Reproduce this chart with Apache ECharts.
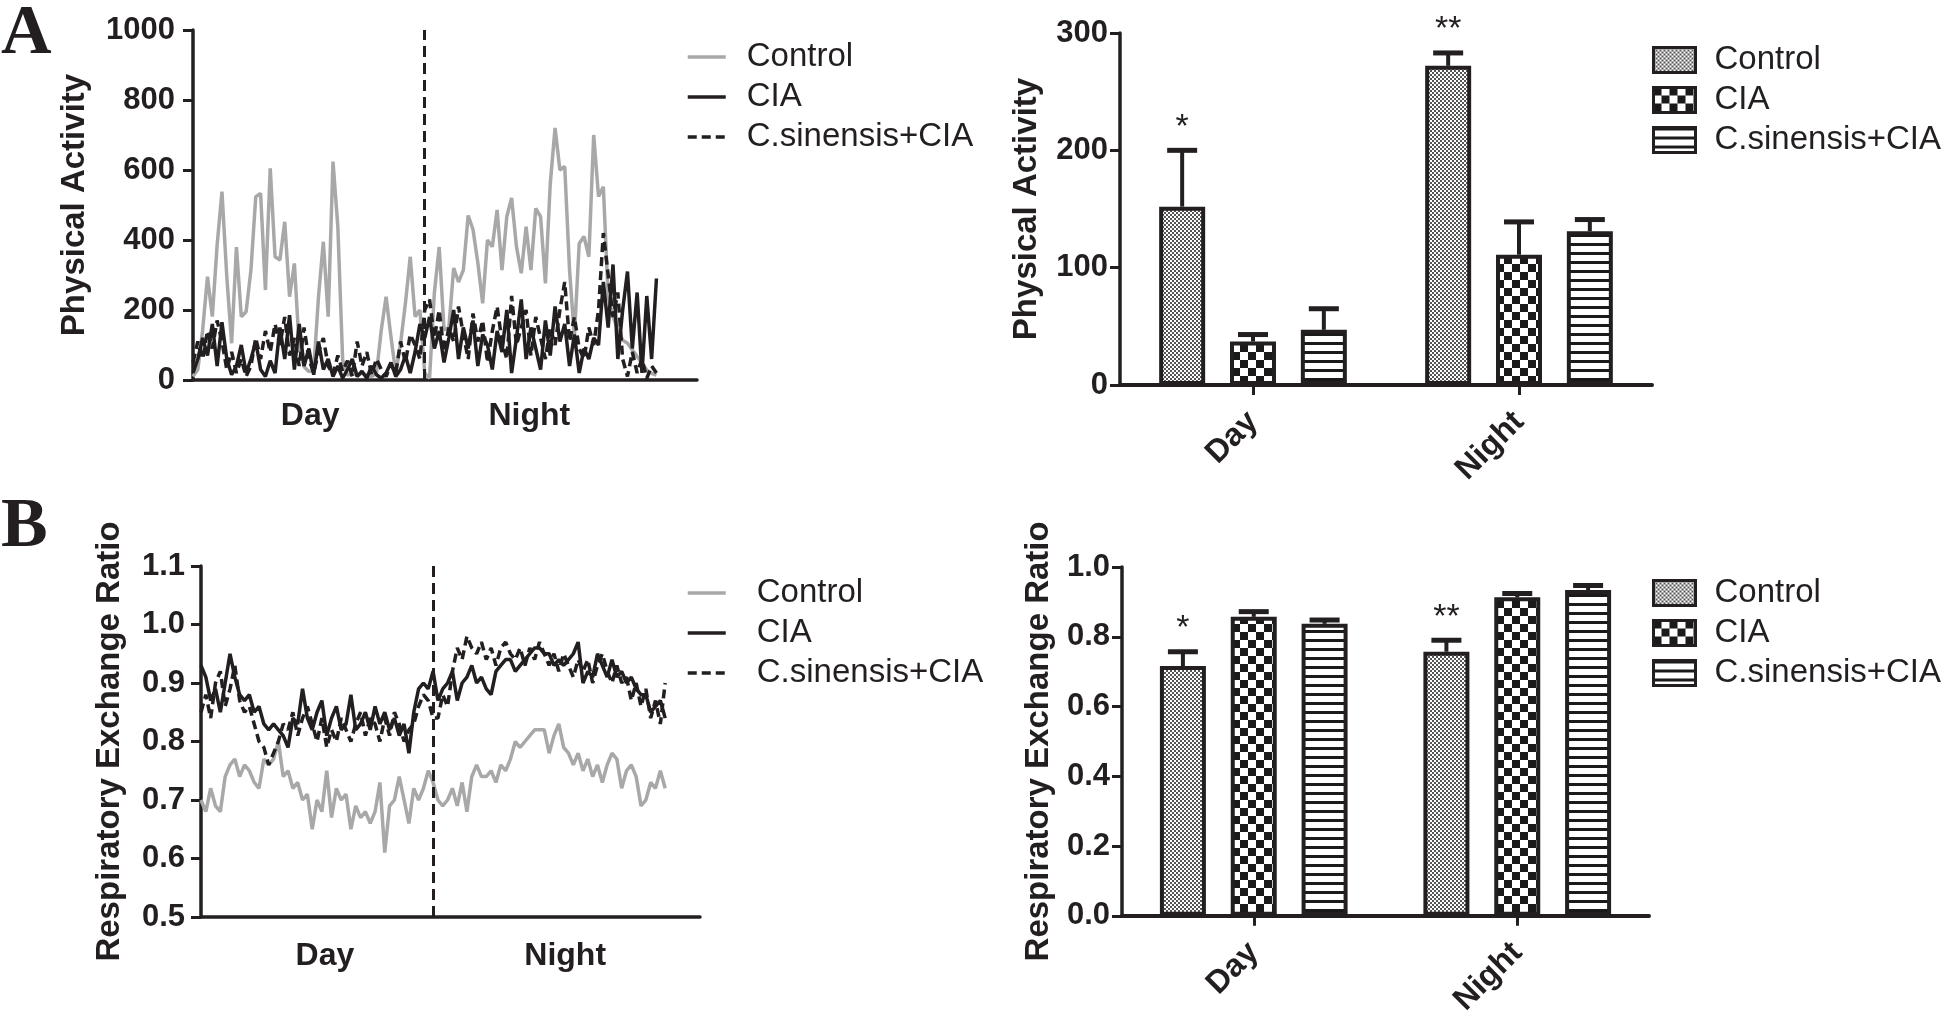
<!DOCTYPE html>
<html><head><meta charset="utf-8">
<script src="https://cdn.jsdelivr.net/npm/echarts@6/dist/echarts.min.js"></script>
<style>html,body{margin:0;padding:0;background:#fff}#c{width:1946px;height:1019px}</style>
</head><body><div id="c"></div>
<script>
// ---------------- DATA ----------------
const seriesNames = ['Control', 'CIA', 'C.sinensis+CIA'];
const dayNight = ['Day', 'Night'];
const panelLetters = ['A', 'B'];
const stepHours = 0.25; // sampling step of the time courses (hours)

// Physical activity time course (0-24 h, every 15 min)
const actControl = [10,30,143,295,181,386,538,295,105,380,181,195,314,524,533,257,605,352,343,452,238,333,95,38,24,29,238,395,181,624,438,57,14,19,14,19,14,10,19,143,238,124,19,105,219,352,181,200,20,
  5,250,380,143,150,320,280,314,470,430,335,219,400,381,486,314,467,520,381,305,438,314,490,467,276,560,720,600,610,314,124,390,410,352,700,524,552,238,181,143,114,105,86,67,48,29,19,14];
const actCIA = [20,60,120,70,160,40,165,60,15,40,100,20,60,110,30,10,55,20,150,60,185,30,160,40,90,15,110,30,60,10,40,5,30,60,10,25,5,40,15,5,20,50,10,30,70,20,80,160,120,
  180,90,140,50,120,200,60,150,90,170,40,130,100,30,140,80,200,20,120,230,60,150,90,30,170,70,210,110,160,40,130,20,90,60,120,100,280,150,330,60,200,310,90,250,20,240,60,290];
const actCS = [50,110,60,140,90,170,110,30,80,20,60,10,40,120,60,140,80,160,100,180,70,120,40,150,60,20,80,120,40,15,70,25,55,10,110,40,80,15,60,30,10,45,20,110,50,130,100,60,200,
  230,120,200,80,150,110,210,130,60,190,110,170,50,140,210,110,60,240,100,150,200,70,180,120,60,150,100,200,280,110,180,90,60,150,100,200,420,300,180,250,60,10,80,20,60,5,40,20];

// Respiratory exchange ratio time course
const rerControl = [0.70,0.68,0.72,0.69,0.68,0.74,0.76,0.77,0.74,0.76,0.75,0.73,0.72,0.77,0.76,0.77,0.80,0.74,0.75,0.72,0.73,0.70,0.71,0.65,0.70,0.68,0.75,0.67,0.72,0.70,0.71,0.65,0.69,0.67,0.68,0.66,0.68,0.73,0.61,0.69,0.70,0.74,0.70,0.66,0.72,0.70,0.72,0.75,0.73,
  0.70,0.69,0.70,0.72,0.69,0.73,0.68,0.74,0.76,0.74,0.74,0.75,0.73,0.76,0.75,0.77,0.80,0.79,0.80,0.81,0.82,0.82,0.82,0.78,0.81,0.83,0.79,0.78,0.76,0.78,0.75,0.77,0.74,0.76,0.73,0.76,0.78,0.77,0.72,0.75,0.76,0.74,0.69,0.70,0.73,0.72,0.75,0.72];
const rerCIA = [0.93,0.91,0.87,0.89,0.85,0.90,0.95,0.91,0.88,0.87,0.88,0.85,0.86,0.83,0.82,0.83,0.82,0.81,0.79,0.84,0.83,0.89,0.84,0.82,0.85,0.87,0.81,0.84,0.86,0.82,0.83,0.88,0.82,0.83,0.85,0.82,0.86,0.83,0.85,0.82,0.84,0.81,0.83,0.78,0.85,0.89,0.90,0.89,0.92,
  0.87,0.89,0.90,0.92,0.87,0.90,0.91,0.93,0.90,0.91,0.89,0.88,0.92,0.93,0.94,0.94,0.92,0.93,0.94,0.95,0.96,0.96,0.95,0.95,0.93,0.94,0.93,0.94,0.95,0.97,0.90,0.92,0.91,0.95,0.93,0.91,0.94,0.91,0.92,0.90,0.91,0.89,0.88,0.88,0.85,0.86,0.87,0.84];
const rerCS = [0.85,0.88,0.84,0.90,0.92,0.86,0.89,0.93,0.87,0.85,0.86,0.83,0.80,0.79,0.76,0.78,0.80,0.83,0.82,0.85,0.81,0.84,0.86,0.83,0.80,0.84,0.79,0.82,0.80,0.84,0.82,0.80,0.83,0.85,0.81,0.84,0.83,0.80,0.84,0.81,0.85,0.83,0.80,0.82,0.83,0.86,0.88,0.87,0.84,
  0.84,0.88,0.86,0.92,0.96,0.94,0.98,0.96,0.95,0.97,0.94,0.96,0.93,0.96,0.97,0.95,0.94,0.96,0.93,0.96,0.94,0.97,0.95,0.93,0.95,0.92,0.95,0.93,0.91,0.94,0.92,0.94,0.90,0.93,0.95,0.92,0.90,0.93,0.90,0.91,0.87,0.90,0.86,0.89,0.84,0.87,0.83,0.90];

// Bar chart means and error (SEM) - [Day, Night]
const actMeanControl = [152, 272], actErrControl = [48, 11];
const actMeanCIA = [37, 111],      actErrCIA = [6, 28];
const actMeanCS = [47, 131],       actErrCS = [18, 10];
const rerMeanControl = [0.716, 0.757], rerErrControl = [0.041, 0.033];
const rerMeanCIA = [0.857, 0.913],     rerErrCIA = [0.015, 0.011];
const rerMeanCS = [0.837, 0.934],      rerErrCS = [0.011, 0.013];
const starsControl = ['*', '**'];
const starsNone = ['', ''];

// -------------- STYLE ---------------
const INK = '#231f20';
const GRAY = '#a8a8a8';
const FF = '"Liberation Sans", Arial, Helvetica, sans-serif';
const BAR_W = 46, BAR_GAP = 0.54;

function makePattern(kind) {
  const c = document.createElement('canvas');
  let ctx;
  if (kind === 'fine') {
    c.width = 4; c.height = 4; ctx = c.getContext('2d');
    ctx.fillStyle = '#fff'; ctx.fillRect(0, 0, 4, 4);
    ctx.fillStyle = '#555'; ctx.fillRect(0, 0, 2, 2); ctx.fillRect(2, 2, 2, 2);
  } else if (kind === 'checker') {
    c.width = 16; c.height = 16; ctx = c.getContext('2d');
    ctx.fillStyle = '#fff'; ctx.fillRect(0, 0, 16, 16);
    ctx.fillStyle = '#1a1a1a'; ctx.fillRect(0, 0, 8, 8); ctx.fillRect(8, 8, 8, 8);
  } else {
    c.width = 8; c.height = 9; ctx = c.getContext('2d');
    ctx.fillStyle = '#fff'; ctx.fillRect(0, 0, 8, 9);
    ctx.fillStyle = '#1a1a1a'; ctx.fillRect(0, 0, 8, 3);
  }
  return { image: c, repeat: 'repeat' };
}
const patterns = [makePattern('fine'), makePattern('checker'), makePattern('hlines')];

const toXY = arr => arr.map((v, i) => [i * stepHours, v]);

const tickLabel = { fontSize: 31, fontWeight: 'bold', color: INK, fontFamily: FF };
const nameStyle = { fontSize: 33, fontWeight: 'bold', color: INK, fontFamily: FF };
const axLine = { show: true, onZero: false, lineStyle: { color: INK, width: 3.5 } };
const yTick = { show: true, length: 10, lineStyle: { color: INK, width: 3 } };

function lineX(grid, max, dayAt, nightAt, margin) {
  return {
    gridIndex: grid, type: 'value', min: 0, max: max,
    axisLine: axLine, axisTick: { show: false }, splitLine: { show: false },
    axisLabel: Object.assign({ customValues: [dayAt, nightAt], margin: margin, fontSize: 32,
      formatter: v => (v < 12 ? dayNight[0] : dayNight[1]) }, { fontWeight: 'bold', color: INK, fontFamily: FF })
  };
}
function yAx(grid, min, max, interval, name, nameGap, margin, digits) {
  return {
    gridIndex: grid, type: 'value', min: min, max: max, interval: interval,
    axisLine: axLine, axisTick: yTick, splitLine: { show: false },
    axisLabel: Object.assign({ margin: margin, formatter: v => v.toFixed(digits) }, tickLabel),
    name: name, nameLocation: 'middle', nameGap: nameGap, nameTextStyle: nameStyle
  };
}
function catX(grid, margin) {
  return {
    gridIndex: grid, type: 'category', data: dayNight,
    axisLine: { show: true, lineStyle: { color: INK, width: 4 } },
    axisTick: { show: true, alignWithLabel: true, length: 10, lineStyle: { color: INK, width: 3 } },
    axisLabel: { rotate: 45, margin: margin, fontSize: 32, fontWeight: 'bold', color: INK, fontFamily: FF },
    splitLine: { show: false }
  };
}

function lineSeries(name, data, xi, color, dashed, withMark) {
  const s = {
    type: 'line', name: name, xAxisIndex: xi, yAxisIndex: xi, data: data,
    symbol: 'none', showSymbol: false, smooth: false, silent: true,
    lineStyle: { color: color, width: 3.5, type: dashed ? [9, 5] : 'solid' },
    itemStyle: { color: color }, z: 2
  };
  if (withMark) {
    s.markLine = {
      silent: true, symbol: 'none', label: { show: false },
      lineStyle: { color: INK, width: 3, type: [11, 6] },
      data: [{ xAxis: 12 }]
    };
  }
  return s;
}

function barSeries(k, mean, xi) {
  return {
    type: 'bar', name: seriesNames[k] + ' ', xAxisIndex: xi, yAxisIndex: xi, data: mean,
    barWidth: BAR_W, barGap: (BAR_GAP * 100) + '%', silent: true,
    itemStyle: { color: patterns[k], borderColor: INK, borderWidth: 4 },
    emphasis: { disabled: true }
  };
}

function errSeries(k, mean, err, stars, xi) {
  return {
    type: 'custom', name: 'err' + xi + '_' + k, xAxisIndex: xi, yAxisIndex: xi, silent: true, z: 5,
    data: mean.map((m, i) => [i, m, err[i]]),
    renderItem: function (params, api) {
      const ci = api.value(0), m = api.value(1), e = api.value(2);
      const base = api.coord([ci, m]);
      const top = api.coord([ci, m + e]);
      const x = base[0] + (k - 1) * BAR_W * (1 + BAR_GAP);
      const children = [
        { type: 'line', shape: { x1: x, y1: base[1], x2: x, y2: top[1] }, style: { stroke: INK, lineWidth: 4 } },
        { type: 'line', shape: { x1: x - 15, y1: top[1], x2: x + 15, y2: top[1] }, style: { stroke: INK, lineWidth: 5 } }
      ];
      const st = stars[params.dataIndex];
      if (st) {
        children.push({ type: 'text', x: x, y: top[1] - 6,
          style: { text: st, fill: INK, font: '34px ' + FF, align: 'center', verticalAlign: 'bottom' } });
      }
      return { type: 'group', children: children };
    }
  };
}

function lineLegend(top, padLeft) {
  return {
    orient: 'vertical', left: 686, top: top, padding: 0, itemGap: 6,
    itemWidth: 38, itemHeight: 14, data: seriesNames.slice(), selectedMode: false,
    itemStyle: { opacity: 0, borderWidth: 0 },
    lineStyle: { width: 3.5 },
    textStyle: { fontSize: 33, color: INK, fontFamily: FF, lineHeight: 34, padding: [0, 0, 0, padLeft] }
  };
}
function barLegend(top) {
  return {
    orient: 'vertical', left: 1652, top: top, padding: 0, itemGap: 6, icon: 'rect',
    itemWidth: 42, itemHeight: 25, data: seriesNames.map(n => n + ' '), selectedMode: false,
    itemStyle: { borderColor: INK, borderWidth: 3 },
    formatter: n => n.trim(),
    textStyle: { fontSize: 33, color: INK, fontFamily: FF, lineHeight: 34, padding: [0, 0, 0, 14] }
  };
}

const letterFont = 'bold 70px "Liberation Serif", "Times New Roman", serif';
const option = {
  animation: false,
  backgroundColor: '#fff',
  graphic: [
    { type: 'text', left: 1, top: 0, style: { text: panelLetters[0], font: letterFont, fill: INK } },
    { type: 'text', left: 1, top: 493, style: { text: panelLetters[1], font: letterFont, fill: INK } }
  ],
  grid: [
    { left: 193, top: 30, width: 504, height: 350 },
    { left: 1120, top: 33, width: 532, height: 352 },
    { left: 201, top: 566, width: 499, height: 351 },
    { left: 1122, top: 567, width: 527, height: 349 }
  ],
  xAxis: [
    lineX(0, 26.1, 6.07, 17.42, 20),
    catX(1, 32),
    lineX(2, 25.8, 6.41, 18.83, 23),
    catX(3, 32)
  ],
  yAxis: [
    yAx(0, 0, 1000, 200, 'Physical Activity', 102, 18, 0),
    yAx(1, 0, 300, 100, 'Physical Activity', 77, 12, 0),
    yAx(2, 0.5, 1.1, 0.1, 'Respiratory Exchange Ratio', 75, 16, 1),
    yAx(3, 0, 1.0, 0.2, 'Respiratory Exchange Ratio', 67, 12, 1)
  ],
  legend: [lineLegend(40, 16), barLegend(43), lineLegend(576, 26), barLegend(576)],
  series: [
    lineSeries(seriesNames[0], toXY(actControl), 0, GRAY, false, true),
    lineSeries(seriesNames[1], toXY(actCIA), 0, INK, false, false),
    lineSeries(seriesNames[2], toXY(actCS), 0, INK, true, false),
    barSeries(0, actMeanControl, 1), barSeries(1, actMeanCIA, 1), barSeries(2, actMeanCS, 1),
    errSeries(0, actMeanControl, actErrControl, starsControl, 1),
    errSeries(1, actMeanCIA, actErrCIA, starsNone, 1),
    errSeries(2, actMeanCS, actErrCS, starsNone, 1),
    lineSeries(seriesNames[0], toXY(rerControl), 2, GRAY, false, true),
    lineSeries(seriesNames[1], toXY(rerCIA), 2, INK, false, false),
    lineSeries(seriesNames[2], toXY(rerCS), 2, INK, true, false),
    barSeries(0, rerMeanControl, 3), barSeries(1, rerMeanCIA, 3), barSeries(2, rerMeanCS, 3),
    errSeries(0, rerMeanControl, rerErrControl, starsControl, 3),
    errSeries(1, rerMeanCIA, rerErrCIA, starsNone, 3),
    errSeries(2, rerMeanCS, rerErrCS, starsNone, 3)
  ]
};
const chart = echarts.init(document.getElementById('c'));
chart.setOption(option);
</script>
</body></html>
